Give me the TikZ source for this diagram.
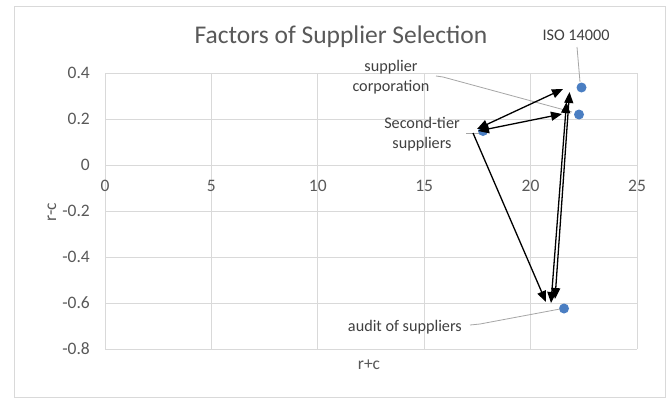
\documentclass[tikz,border=0pt]{standalone}
\usepackage{fontspec}
\setmainfont{Carlito}
\usetikzlibrary{arrows.meta}
\definecolor{gridc}{HTML}{D9D9D9}
\definecolor{txtc}{HTML}{595959}
\definecolor{lblc}{HTML}{404040}
\definecolor{mark}{HTML}{4A7EC2}
\definecolor{leadc}{HTML}{A6A6A6}
\begin{document}
\begin{tikzpicture}[x=1pt,y=-1pt,
  grid/.style={draw=gridc,line width=1pt},
  ticklbl/.style={text=txtc,font=\fontsize{17.5}{20}\selectfont,inner sep=0pt},
  ptlbl/.style={text=lblc,font=\fontsize{16.2}{20}\selectfont,align=center,inner sep=0pt},
  dot/.style={circle,fill=mark,minimum size=10pt,inner sep=0pt},
  lead/.style={draw=leadc,line width=0.8pt},
  conn/.style={draw=black,line width=1.3pt,{Triangle[length=11pt,width=9pt]}-{Triangle[length=11pt,width=9pt]}},
  conn1/.style={draw=black,line width=1.3pt,-{Triangle[length=11pt,width=9pt]}}]
\useasboundingbox (0,0) rectangle (669,399);
\fill[white] (0,0) rectangle (669,399);
\draw[gridc,line width=1pt] (14,6) rectangle (665,397);
% grid
\foreach \yy in {73,119,165,211,257,303,349} \draw[grid] (105,\yy) -- (637,\yy);
\foreach \xx in {105,211.4,317.8,424.2,530.6,637} \draw[grid] (\xx,73) -- (\xx,349);
% title
\node[text=txtc,font=\fontsize{25.5}{28}\selectfont,inner sep=0pt] (title) at (341,37) {Factors of Supplier Selection};
% y tick labels
\foreach \yy/\t in {73/0.4,119/0.2,165/0,211/-0.2,257/-0.4,303/-0.6,349/-0.8}
  \node[ticklbl,anchor=east] at (90,\yy) {\t};
% x tick labels
\foreach \xx/\t in {105/0,211.4/5,317.8/10,424.2/15,530.6/20,637/25}
  \node[ticklbl] at (\xx,186) {\t};
% axis titles
\node[ticklbl,rotate=90] (ytitle) at (52,212) {r-c};
\node[ticklbl] (xtitle) at (369,365) {r+c};
% points
\node[dot] (iso) at (581.5,87.5) {};
\node[dot] (corp) at (579,114.5) {};
\node[dot] (tier) at (483,131) {};
\node[dot] (audit) at (564,308.5) {};
% labels
\node[ptlbl] (isol) at (576,35) {ISO 14000};
\node[ptlbl] (corpl) at (391,77) {supplier\\corporation};
\node[ptlbl] (tierl) at (422,134) {Second-tier\\suppliers};
\node[ptlbl,anchor=east] (auditl) at (462,327) {audit of suppliers};
% leader lines
\coordinate (isoA) at (577,47);
\coordinate (isoB) at (580,82);
\draw[lead] (isoA) -- (isoB);
\coordinate (corpA) at (436,76);
\coordinate (corpB) at (443,77);
\coordinate (corpC) at (572,112);
\draw[lead] (corpA) -- (corpB) -- (corpC);
\coordinate (tierA) at (466,133);
\coordinate (tierB) at (479,133);
\draw[lead] (tierA) -- (tierB);
\coordinate (audA) at (470,325);
\coordinate (audB) at (480,324);
\coordinate (audC) at (560,309);
\draw[lead] (audA) -- (audB) -- (audC);
% arrows
\coordinate (a1s) at (477,129);
\coordinate (a1e) at (563,89);
\coordinate (a2s) at (478,131);
\coordinate (a2e) at (562,114);
\coordinate (a3s) at (473,133);
\coordinate (a3e) at (546,302);
\coordinate (a4s) at (569.5,92);
\coordinate (a4e) at (555,299);
\coordinate (a5s) at (566.5,102);
\coordinate (a5e) at (551,303);
\draw[conn] (a1s) -- (a1e);
\draw[conn] (a2s) -- (a2e);
\draw[conn1] (a3s) -- (a3e);
\draw[conn] (a4s) -- (a4e);
\draw[conn] (a5s) -- (a5e);
\end{tikzpicture}
\end{document}
